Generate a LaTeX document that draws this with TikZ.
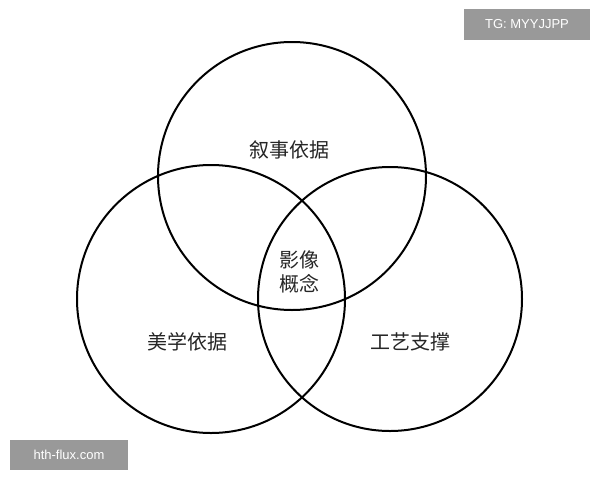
\documentclass[tikz,border=0pt]{standalone}
\usepackage{fontspec}
\newfontfamily\cjk{Noto Sans CJK SC}
\setmainfont{Liberation Sans}
\begin{document}
\begin{tikzpicture}[x=1pt,y=-1pt,
  ring/.style={draw=black,line width=2pt},
  lbl/.style={font=\cjk\fontsize{20}{24}\selectfont,text=black!85},
  wm/.style={fill=black!40,text=white,font=\fontsize{13}{15}\selectfont,inner sep=0pt}]
\useasboundingbox[fill=white] (0,0) rectangle (600,480);
\draw[ring] (292,176) circle (134);
\draw[ring] (211,299) circle (134);
\draw[ring] (390,299) circle (132);
\node[lbl] (a) at (289,150) {叙事依据};
\node[lbl] (b) at (187,342) {美学依据};
\node[lbl] (c) at (410,342) {工艺支撑};
\node[lbl,align=center] (d) at (299,272) {影像\\概念};
\node[wm,minimum width=126,minimum height=31] (t) at (527,24) {TG: MYYJJPP};
\node[wm,minimum width=118,minimum height=30] (h) at (69,455) {hth-flux.com};
\end{tikzpicture}
\end{document}
